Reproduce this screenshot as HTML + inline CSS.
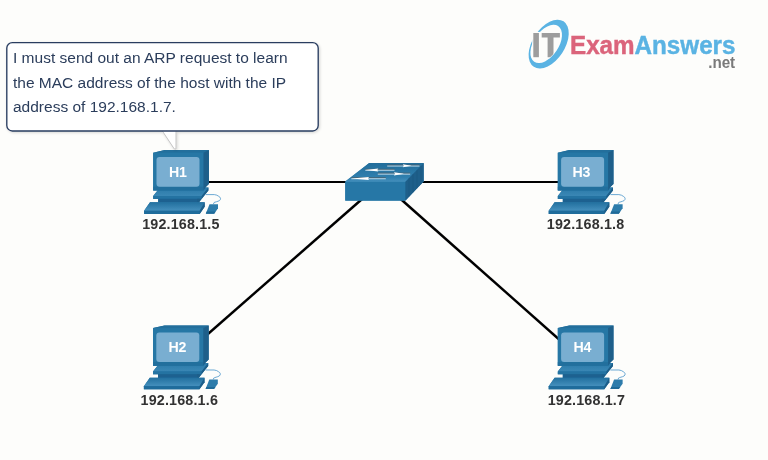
<!DOCTYPE html>
<html>
<head>
<meta charset="utf-8">
<style>
html,body{margin:0;padding:0;}
body{width:768px;height:460px;overflow:hidden;background:#fdfdfb;font-family:"Liberation Sans",sans-serif;}
svg{display:block;position:absolute;left:0;top:0;will-change:transform;}
</style>
</head>
<body>
<svg width="768" height="460" viewBox="0 0 768 460">
<defs>
  <linearGradient id="kbtop" x1="0" y1="0" x2="0" y2="1">
    <stop offset="0" stop-color="#22709f"/>
    <stop offset="1" stop-color="#4590bd"/>
  </linearGradient>
  <linearGradient id="sttop" x1="0" y1="0" x2="0" y2="1">
    <stop offset="0" stop-color="#2a79a8"/>
    <stop offset="1" stop-color="#3a87b5"/>
  </linearGradient>
  <linearGradient id="swtop" x1="0" y1="0" x2="0" y2="1">
    <stop offset="0" stop-color="#226d9a"/>
    <stop offset="0.75" stop-color="#2f7fae"/>
    <stop offset="1" stop-color="#4590bd"/>
  </linearGradient>
  <filter id="bshadow" x="-10%" y="-10%" width="120%" height="130%">
    <feGaussianBlur in="SourceAlpha" stdDeviation="1.8"/>
    <feOffset dx="0.8" dy="1.2"/>
    <feComponentTransfer><feFuncA type="linear" slope="0.16"/></feComponentTransfer>
    <feMerge><feMergeNode/><feMergeNode in="SourceGraphic"/></feMerge>
  </filter>
  <clipPath id="ringfront"><rect x="549" y="44" width="30" height="30"/></clipPath>
  <g id="pc">
    <!-- stand (behind monitor) -->
    <polygon points="0,46 6.7,37.5 55.2,37.5 55.2,40.5 45.6,52.6 5,52.6 5,48.9 0,48.9" fill="#2270a0"/>
    <polygon points="0,46 6.7,37.5 55.2,37.5 48.5,46" fill="url(#sttop)"/>
    <rect x="0" y="46" width="48.5" height="2.9" fill="#2473a2"/>
    <rect x="5" y="48.8" width="41" height="3.8" fill="#1d6190"/>
    <polygon points="48.5,46 55.2,37.5 55.2,40.5 45.6,52.6 44,52.6 44,48.8 48.5,48.8" fill="#1d5e89"/>
    <!-- monitor -->
    <polygon points="0,2.7 11.5,0 55.7,0 55.7,34 52.6,37 50.3,40.4 0,40.4" fill="#2373a2"/>
    <polygon points="0,2.7 11.5,0 55.7,0 50.3,2.7" fill="#236f9c"/>
    <rect x="0" y="2.7" width="50.3" height="37.7" fill="#2677a5"/>
    <rect x="0" y="36.7" width="50.3" height="3.7" fill="#226f9d"/>
    <polygon points="50.3,2.7 55.7,0 55.7,34 52.6,37 50.3,40.4" fill="#1e5f8a"/>
    <rect x="3.3" y="7" width="43" height="29.7" rx="3" fill="#79aed1"/>
    <!-- keyboard -->
    <polygon points="-9.1,60.8 -3.2,52.3 51.5,52.3 51.5,56.8 46.5,63.9 -9.1,63.9" fill="#2270a0"/>
    <polygon points="-9.1,60.8 -3.2,52.3 51.5,52.3 46.5,60.8" fill="url(#kbtop)"/>
    <rect x="-9.1" y="60.8" width="55.6" height="3.1" fill="#1f6c9b"/>
    <polygon points="46.5,60.8 51.5,52.3 51.5,56.8 46.5,63.9" fill="#1d5e89"/>
    <!-- mouse -->
    <polygon points="56.3,54.2 64.8,54.2 64.8,58.3 61,63.7 52.6,63.7" fill="#2d7cab"/>
    <polygon points="53.4,61.5 62.5,61.5 61,63.7 52.6,63.7" fill="#1f6a98"/>
    <!-- cable -->
    <path d="M52.6,44.6 L61.1,44.6 C63,44.8 64.5,45.4 65.5,46.3 C67.5,47.3 68,49.2 66.3,50.6 C64.5,51.6 61.5,52.1 60.8,52.6 L60.2,54.2" fill="none" stroke="#5199cc" stroke-width="0.85"/>
  </g>
</defs>

<!-- links -->
<g stroke="#000" stroke-width="2.2" fill="none">
  <line x1="180" y1="182" x2="585" y2="182"/>
  <line x1="381.5" y1="182" x2="176" y2="362" stroke-width="2.5"/>
  <line x1="381.5" y1="182" x2="584.5" y2="362" stroke-width="2.5"/>
</g>

<!-- switch -->
<g>
  <polygon points="345.4,181.3 369.2,163 423.7,163 423.7,181.3 405.4,200.6 345.4,200.6" fill="#2677a6"/>
  <polygon points="345.2,182 369.2,163 423.7,163 405.4,182" fill="url(#swtop)"/>
  <rect x="345.2" y="181.8" width="60.2" height="18.9" fill="#2677a6"/>
  <polygon points="405.4,181.8 423.7,163 423.7,181.6 405.4,200.7" fill="#1e5f8a"/>
  <g stroke="#174f75" stroke-width="0.6" opacity="0.6">
    <line x1="409" y1="178" x2="409" y2="196.8"/>
    <line x1="413" y1="174" x2="413" y2="192.6"/>
    <line x1="417" y1="170" x2="417" y2="188.4"/>
    <line x1="421" y1="166" x2="421" y2="184.2"/>
  </g>
  <!-- arrows -->
  <line x1="387.2" y1="165.10" x2="419.5" y2="165.10" stroke="#5b4d43" stroke-width="0.9" opacity="0.7"/>
  <line x1="387.2" y1="166.05" x2="419.5" y2="166.05" stroke="#bcd9ea" stroke-width="1"/>
  <polygon points="402.8,164.2 403.8,165.8 402.8,167.3 411.5,165.8" fill="#ffffff"/>
  <line x1="394.5" y1="169.30" x2="365.3" y2="169.30" stroke="#5b4d43" stroke-width="0.9" opacity="0.7"/>
  <line x1="394.5" y1="170.25" x2="365.3" y2="170.25" stroke="#bcd9ea" stroke-width="1"/>
  <polygon points="378.3,168.4 377.3,170.0 378.3,171.5 365.3,170.0" fill="#ffffff"/>
  <line x1="377.8" y1="173.20" x2="410.2" y2="173.20" stroke="#5b4d43" stroke-width="0.9" opacity="0.7"/>
  <line x1="377.8" y1="174.15" x2="410.2" y2="174.15" stroke="#bcd9ea" stroke-width="1"/>
  <polygon points="394.0,172.3 395.0,173.8 394.0,175.4 404.0,173.8" fill="#ffffff"/>
  <line x1="385.8" y1="177.80" x2="351.3" y2="177.80" stroke="#5b4d43" stroke-width="0.9" opacity="0.7"/>
  <line x1="385.8" y1="178.75" x2="351.3" y2="178.75" stroke="#bcd9ea" stroke-width="1"/>
  <polygon points="369.0,176.9 368.0,178.5 369.0,180.0 351.6,178.5" fill="#ffffff"/>
</g>

<!-- PCs -->
<use href="#pc" x="153.2" y="150"/>
<use href="#pc" x="153" y="325.4"/>
<use href="#pc" x="557.8" y="150"/>
<use href="#pc" x="557.8" y="325.4"/>

<g font-family="Liberation Sans" font-weight="bold" font-size="14.2" fill="#ffffff" text-anchor="middle" letter-spacing="-0.2">
  <text x="177.8" y="176.8">H1</text>
  <text x="177.3" y="351.9">H2</text>
  <text x="581.3" y="176.8">H3</text>
  <text x="582.4" y="352.1">H4</text>
</g>
<g font-family="Liberation Sans" font-weight="bold" font-size="14.3" fill="#323232" text-anchor="middle" letter-spacing="0.18">
  <text x="180.9" y="228.8">192.168.1.5</text>
  <text x="179.3" y="404.8">192.168.1.6</text>
  <text x="585.6" y="228.8">192.168.1.8</text>
  <text x="586.4" y="404.9">192.168.1.7</text>
</g>

<!-- speech bubble -->
<g filter="url(#bshadow)">
  <polygon points="161.7,130 174.3,149 176,149 176,130" fill="#ffffff" stroke="#bdbdbd" stroke-width="0.9"/>
  <rect x="6.8" y="42.6" width="311.4" height="88.4" rx="5.5" ry="5.5" fill="#ffffff" stroke="#293d60" stroke-width="1.35"/>
</g>
<g font-family="Liberation Sans" font-size="15.5" fill="#2b3d5b">
  <text x="13" y="62.8">I must send out an ARP request to learn</text>
  <text x="13" y="87.7">the MAC address of the host with the IP</text>
  <text x="13" y="111.6">address of 192.168.1.7.</text>
</g>

<!-- logo -->
<g>
  <path fill-rule="evenodd" fill="#5ab3e3" d="M563.54,21.34 A16.1,27.18 33.15 1,1 533.82,66.86 A16.1,27.18 33.15 1,1 563.54,21.34 Z M558.12,26.03 A12.43,21.49 33.74 1,0 534.24,61.77 A12.43,21.49 33.74 1,0 558.12,26.03 Z"/>
  <g fill="#9d9d9d" stroke="#fdfdfb" stroke-width="2.2" paint-order="stroke">
    <rect x="533.3" y="33" width="5.6" height="24.2"/>
    <path d="M541.7,33 H559.9 V37.6 H553.5 V57.2 H547.6 V37.6 H541.7 Z"/>
  </g>
  <g clip-path="url(#ringfront)">
    <path fill-rule="evenodd" fill="#5ab3e3" stroke="#fdfdfb" stroke-width="1.2" paint-order="stroke" d="M563.54,21.34 A16.1,27.18 33.15 1,1 533.82,66.86 A16.1,27.18 33.15 1,1 563.54,21.34 Z M558.12,26.03 A12.43,21.49 33.74 1,0 534.24,61.77 A12.43,21.49 33.74 1,0 558.12,26.03 Z"/>
  </g>
  <text x="570" y="54.3" font-family="Liberation Sans" font-weight="bold" font-size="25.5" fill="#db647b" stroke="#db647b" stroke-width="0.45" textLength="165.5" lengthAdjust="spacingAndGlyphs">Exam<tspan fill="#5ab3e3" stroke="#5ab3e3">Answers</tspan></text>
  <text x="708.2" y="67.9" font-family="Liberation Sans" font-weight="bold" font-size="16" fill="#7a7a7a" textLength="27" lengthAdjust="spacingAndGlyphs">.net</text>
</g>
</svg>
</body>
</html>
